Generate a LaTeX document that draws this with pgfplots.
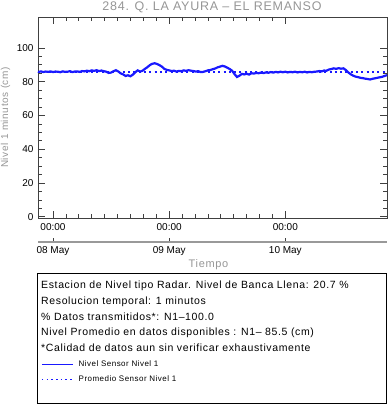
\documentclass[border=0pt]{standalone}
\usepackage{fontspec}
\setmainfont{Liberation Sans}
\newfontfamily\ls[LetterSpace=6]{Liberation Sans}
\usepackage{pgfplots}
\pgfplotsset{compat=1.18}
\definecolor{ttl}{RGB}{150,150,150}
\definecolor{lineblue}{RGB}{25,25,255}
\begin{document}
\begin{tikzpicture}
\path[use as bounding box] (0,0) rectangle (388bp,404bp);
% title
\node[text=ttl, font=\ls\fontsize{12.5bp}{14bp}\selectfont] at (212bp,396.5bp) {284. Q. LA AYURA – EL REMANSO};
\node[text=ttl, rotate=90, font=\ls\fontsize{10bp}{11bp}\selectfont] at (5.5bp,286.5bp) {Nivel 1 minutos (cm)};
\node[text=ttl, font=\ls\fontsize{11bp}{12bp}\selectfont] at (208.5bp,139bp) {Tiempo};
\begin{axis}[
  at={(38bp,186bp)}, anchor=south west,
  width=349bp, height=201bp, scale only axis,
  xmin=-3.1, xmax=69.0, ymin=-0.7, ymax=118.3,
  xtick={0,24,48}, xticklabels={00:00,00:00,00:00},
  minor x tick num=8,
  ytick={0,20,40,60,80,100}, minor y tick num=3,
  tick align=inside, major tick length=7bp, minor tick length=4bp,
  axis line style={black!75, line width=0.8bp},
  every tick/.style={black!75, line width=0.8bp},
  tick label style={font=\fontsize{10bp}{12bp}\selectfont},
  /pgf/number format/assume math mode=true,
  xticklabel style={yshift=-2bp},
  yticklabel style={xshift=-1bp},
  clip=false,
  reverse legend,
  legend style={at={(axis description cs:0.0086,-0.705)}, anchor=north west,
    draw=none, fill=none, inner sep=0pt, row sep=5.5bp,
    font=\ls\fontsize{8bp}{9bp}\selectfont,
    nodes={inner sep=1bp}, column sep=4bp},
  legend cell align=left,
]
\addplot[lineblue, line width=2bp, dash pattern=on 2bp off 3.3bp,
  legend image code/.code={\draw[lineblue, line width=1.5bp, dash pattern=on 1.5bp off 3.2bp] (0bp,0bp) -- (31bp,0bp);}] table {
x y
-3.1 85.5
69.0 85.5
};
\addlegendentry{Promedio Sensor Nivel 1}
\addplot[lineblue, line width=2.2bp,
  legend image code/.code={\draw[lineblue, line width=1.1bp] (0bp,0bp) -- (31bp,0bp);}] table {
x y
-3.1 85.9
-3.0 85.8
-2.5 86.1
-2.0 85.7
-1.5 86.0
-1.0 85.8
-0.5 86.1
0.0 85.7
0.5 86.0
1.0 85.9
1.5 85.6
2.0 86.1
2.5 85.8
3.0 85.9
3.5 86.2
4.0 85.7
4.5 86.0
5.0 86.1
5.5 85.8
6.0 86.3
6.5 86.1
7.0 86.5
7.5 86.2
8.0 86.7
8.5 86.4
9.0 86.8
9.5 86.3
10.0 86.6
10.5 86.2
11.0 85.9
11.5 85.2
12.0 85.4
12.5 86.2
13.0 86.8
13.5 86.0
14.0 84.9
14.5 84.3
15.0 83.4
15.5 83.8
16.0 83.2
16.5 84.2
17.0 85.6
17.5 86.7
18.0 86.0
18.5 86.5
19.0 87.6
19.5 88.6
20.0 89.8
20.5 90.6
21.0 90.9
21.5 90.5
22.0 89.8
22.5 88.9
23.0 87.6
23.5 87.0
24.0 86.7
24.5 86.3
25.0 86.5
25.5 86.0
26.0 86.4
26.5 86.2
27.0 86.7
27.5 86.4
28.0 86.8
28.5 86.5
29.0 86.3
29.5 86.0
30.0 86.2
30.5 85.7
31.0 85.8
31.5 86.2
32.0 86.7
32.5 86.9
33.0 87.4
33.5 87.8
34.0 88.5
34.5 88.9
35.0 89.4
35.5 89.0
36.0 88.3
36.5 87.5
37.0 86.5
37.5 84.5
38.0 82.8
38.5 83.5
39.0 84.6
39.5 84.3
40.0 84.7
40.5 84.2
41.0 85.0
41.5 84.8
42.0 85.2
42.5 85.0
43.0 85.4
43.5 85.1
44.0 85.5
44.5 85.3
45.0 85.7
45.5 85.4
46.0 85.8
46.5 85.5
47.0 85.9
47.5 85.6
48.0 85.9
48.5 85.5
49.0 85.8
49.5 85.6
50.0 85.9
50.5 85.5
51.0 85.8
51.5 85.6
52.0 85.9
52.5 85.5
53.0 85.8
53.5 85.6
54.0 85.9
54.5 86.0
55.0 86.3
55.5 86.1
56.0 86.6
56.5 86.5
57.0 87.2
57.5 87.5
58.0 87.9
58.5 87.6
59.0 88.0
59.5 87.7
60.0 87.9
60.5 86.9
61.0 85.5
61.5 84.4
62.0 83.6
62.5 83.0
63.0 82.7
63.5 82.3
64.0 82.1
64.5 81.8
65.0 81.6
65.5 81.3
66.0 81.7
66.5 82.0
67.0 82.3
67.5 82.6
68.0 82.9
68.5 83.4
69.0 83.9
};
\addlegendentry{Nivel Sensor Nivel 1}
\end{axis}
% date axis
\begin{axis}[
  at={(38bp,162.3bp)}, anchor=south west,
  width=349bp, height=10bp, scale only axis,
  xmin=-3.1, xmax=69.0, ymin=0, ymax=1,
  axis x line*=bottom, hide y axis,
  axis line style={black!40, line width=1.8bp},
  xtick={0,24,48}, xticklabels={08 May,09 May,10 May},
  tick align=inside, major tick length=4bp,
  every tick/.style={black!75, line width=0.8bp},
  tick label style={font=\fontsize{10bp}{12bp}\selectfont},
  xticklabel style={yshift=-1bp},
]
\addplot[draw=none] coordinates {(0,0) (48,0)};
\end{axis}
% info box
\draw[black, line width=0.9bp] (37.5bp,1bp) rectangle (386bp,131bp);
\begin{scope}[every node/.style={anchor=base west, inner sep=0pt, font=\ls\fontsize{10.5bp}{12bp}\selectfont}]
\node at (41bp,115.7bp) {Estacion de Nivel tipo Radar. Nivel de Banca Llena: 20.7 \%};
\node at (41bp,99.7bp) {Resolucion temporal: 1 minutos};
\node at (41bp,83.7bp) {\% Datos transmitidos*: N1–100.0};
\node at (41bp,68bp) {Nivel Promedio en datos disponibles : N1– 85.5 (cm)};
\node at (41bp,52.3bp) {*Calidad de datos aun sin verificar exhaustivamente};
\end{scope}
\end{tikzpicture}
\end{document}
